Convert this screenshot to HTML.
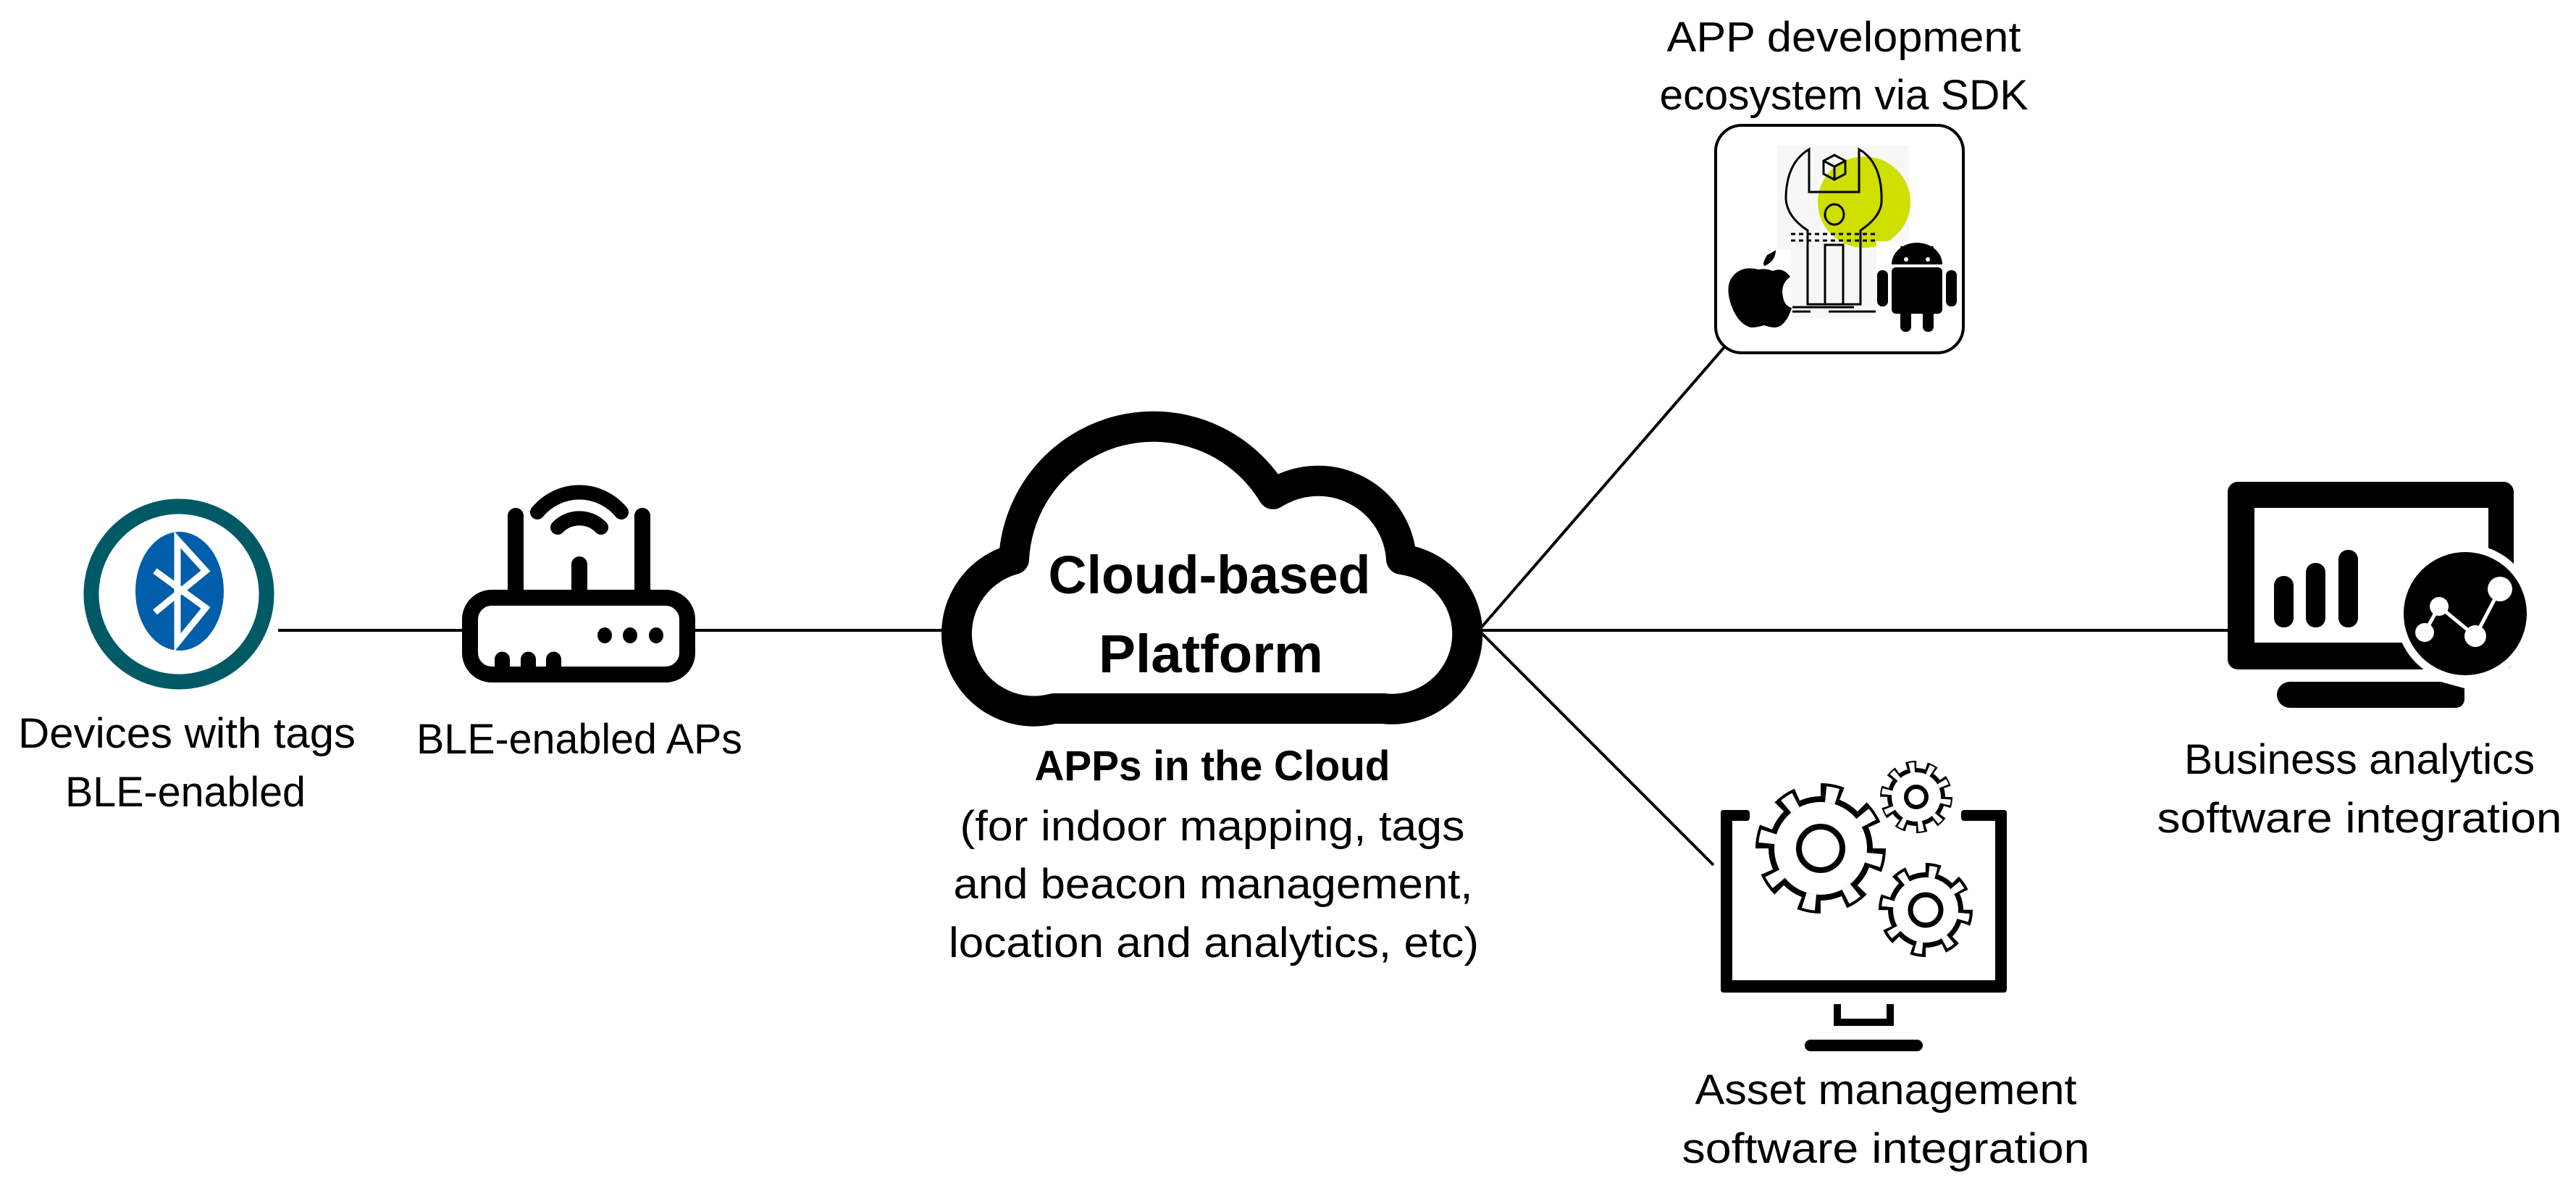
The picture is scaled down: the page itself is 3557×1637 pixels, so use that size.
<!DOCTYPE html>
<html><head><meta charset="utf-8"><style>
html,body{margin:0;padding:0;background:#fff}
svg{display:block}
text{font-family:"Liberation Sans",sans-serif;fill:#000}
</style></head><body>
<svg width="3557" height="1637" viewBox="0 0 3557 1637" xmlns="http://www.w3.org/2000/svg">
<rect width="3557" height="1637" fill="#fff"/>
<!-- connectors -->
<g stroke="#000" stroke-width="4" fill="none">
<line x1="384" y1="870" x2="640" y2="870"/>
<line x1="958" y1="870" x2="1330" y2="870"/>
<line x1="2042" y1="870" x2="3078" y2="870"/>
<line x1="2042" y1="870" x2="2382" y2="478"/>
<line x1="2042" y1="870" x2="2366" y2="1194"/>
</g>

<!-- Bluetooth -->
<circle cx="247" cy="820" r="121" fill="#fff" stroke="#005a66" stroke-width="21"/>
<ellipse cx="248" cy="816" rx="61" ry="82" fill="#005eaa"/>
<polyline points="214,788 284,839 245,887 245,745 284,788 214,845" fill="none" stroke="#fff" stroke-width="9" stroke-linejoin="miter"/>

<!-- Router -->
<g stroke="#000" fill="none">
<rect x="649" y="825" width="300" height="106" rx="30" stroke-width="22" fill="#fff"/>
<line x1="712" y1="712" x2="712" y2="820" stroke-width="22" stroke-linecap="round"/>
<line x1="887" y1="712" x2="887" y2="820" stroke-width="22" stroke-linecap="round"/>
<line x1="800" y1="779" x2="800" y2="820" stroke-width="22" stroke-linecap="round"/>
<path d="M770,728 A42,42 0 0 1 830,728" stroke-width="20" stroke-linecap="round"/>
<path d="M742,707 A75,75 0 0 1 858,707" stroke-width="20" stroke-linecap="round"/>
</g>
<g fill="#000">
<ellipse cx="835" cy="877" rx="10" ry="11"/>
<ellipse cx="870" cy="877" rx="10" ry="11"/>
<ellipse cx="906" cy="877" rx="10" ry="11"/>
<path d="M683,925 V910 a10,10 0 0 1 21,0 V925 Z"/>
<path d="M719,925 V910 a10,10 0 0 1 21,0 V925 Z"/>
<path d="M754,925 V910 a10,10 0 0 1 21,0 V925 Z"/>
</g>

<!-- Cloud -->
<path d="M1455,978 L1910,978 A100,100 0 0 0 1935,772 A115,115 0 0 0 1758,682 A193,193 0 0 0 1400,772 A103,103 0 0 0 1455,978 Z" fill="#fff" stroke="#000" stroke-width="42" stroke-linejoin="round"/>
<text x="1670" y="819" font-size="74" font-weight="bold" text-anchor="middle" textLength="445" lengthAdjust="spacingAndGlyphs">Cloud-based</text>
<text x="1672" y="928" font-size="74" font-weight="bold" text-anchor="middle" textLength="310" lengthAdjust="spacingAndGlyphs">Platform</text>

<text x="1674" y="1077" font-size="58" font-weight="bold" text-anchor="middle" textLength="491" lengthAdjust="spacingAndGlyphs">APPs in the Cloud</text>
<text x="1674" y="1160" font-size="58" text-anchor="middle" textLength="697" lengthAdjust="spacingAndGlyphs">(for indoor mapping, tags</text>
<text x="1675" y="1240" font-size="58" text-anchor="middle" textLength="717" lengthAdjust="spacingAndGlyphs">and beacon management,</text>
<text x="1676" y="1321" font-size="58" text-anchor="middle" textLength="732" lengthAdjust="spacingAndGlyphs">location and analytics, etc)</text>

<text x="258" y="1032" font-size="58" text-anchor="middle" textLength="466" lengthAdjust="spacingAndGlyphs">Devices with tags</text>
<text x="256" y="1113" font-size="58" text-anchor="middle" textLength="332" lengthAdjust="spacingAndGlyphs">BLE-enabled</text>
<text x="800" y="1040" font-size="58" text-anchor="middle" textLength="450" lengthAdjust="spacingAndGlyphs">BLE-enabled APs</text>

<!-- APP box -->
<text x="2546" y="71" font-size="58" text-anchor="middle" textLength="489" lengthAdjust="spacingAndGlyphs">APP development</text>
<text x="2546" y="151" font-size="58" text-anchor="middle" textLength="509" lengthAdjust="spacingAndGlyphs">ecosystem via SDK</text>
<rect x="2369" y="173" width="342" height="314" rx="36" fill="#fff" stroke="#000" stroke-width="4"/>
<rect x="2454" y="201" width="182" height="238" fill="#f7f7f7"/>
<ellipse cx="2574" cy="279" rx="64" ry="63" fill="#cfdf00"/>
<g fill="none" stroke="#000" stroke-width="3">
<path d="M2498,206 L2498,265 L2567,265 L2567,206 Q2600,225 2598,280 Q2596,300 2569,318 L2569,420 L2496,420 L2496,318 Q2468,300 2466,275 Q2466,225 2498,206 Z"/>
<rect x="2520" y="338" width="25" height="82"/>
<ellipse cx="2533" cy="296" rx="13" ry="14"/>
<path d="M2518,222 L2533,214 L2548,222 L2548,240 L2533,248 L2518,240 Z M2518,222 L2533,230 L2548,222 M2533,230 L2533,248"/>
<line x1="2473" y1="323" x2="2589" y2="323" stroke-dasharray="6,5"/>
<line x1="2473" y1="332" x2="2589" y2="332" stroke-dasharray="6,5"/>
<line x1="2475" y1="424" x2="2560" y2="424"/>
<line x1="2475" y1="430" x2="2500" y2="430"/>
<line x1="2525" y1="430" x2="2590" y2="430"/>
</g>
<rect x="2384" y="345" width="89" height="108" fill="#fff"/>
<path d="M2440,352 Q2450,347 2452,345 Q2452,360 2437,367 Q2432,366 2440,352 Z" fill="#000"/>
<path d="M2428,372 Q2438,370 2448,374 Q2462,368 2472,382 Q2458,392 2462,410 Q2464,422 2474,425 Q2466,450 2452,452 Q2444,452 2436,449 Q2426,452 2418,452 Q2400,448 2390,420 Q2382,395 2392,382 Q2405,366 2428,372 Z" fill="#000"/>
<rect x="2591" y="333" width="110" height="126" fill="#fff"/>
<g fill="#000">
<path d="M2612,365 A35,30 0 0 1 2682,365 Z"/>
<line x1="2625" y1="340" x2="2632" y2="350" stroke="#000" stroke-width="3"/>
<line x1="2669" y1="340" x2="2662" y2="350" stroke="#000" stroke-width="3"/>
<rect x="2612" y="369" width="70" height="64" rx="6"/>
<rect x="2592" y="373" width="15" height="50" rx="7"/>
<rect x="2687" y="373" width="15" height="50" rx="7"/>
<rect x="2624" y="420" width="15" height="38" rx="7"/>
<rect x="2655" y="420" width="15" height="38" rx="7"/>
</g>
<circle cx="2632" cy="358" r="3" fill="#fff"/>
<circle cx="2662" cy="358" r="3" fill="#fff"/>

<!-- Asset management monitor -->
<g fill="#000">
<rect x="2376" y="1118" width="16" height="252" rx="4"/>
<rect x="2376" y="1118" width="40" height="15" rx="4"/>
<rect x="2708" y="1118" width="63" height="15" rx="4"/>
<rect x="2755" y="1118" width="16" height="252" rx="4"/>
<rect x="2376" y="1353" width="395" height="17" rx="4"/>
<rect x="2532" y="1386" width="10" height="30"/>
<rect x="2605" y="1386" width="10" height="30"/>
<rect x="2532" y="1406" width="83" height="10"/>
<rect x="2492" y="1435" width="163" height="16" rx="8"/>
</g>
<!-- gears: black then white -->
<g>
<circle cx="2514" cy="1171" r="72" fill="#000"/>
<circle cx="2514" cy="1171" r="81" fill="none" stroke="#000" stroke-width="18" stroke-dasharray="30 33.6"/>
<circle cx="2514" cy="1171" r="64" fill="#fff"/>
<circle cx="2514" cy="1171" r="75" fill="none" stroke="#fff" stroke-width="22" stroke-dasharray="16 42.9" stroke-dashoffset="-7"/>
<circle cx="2514" cy="1171" r="30" fill="none" stroke="#000" stroke-width="8"/>

<circle cx="2646" cy="1100" r="40" fill="#000"/>
<circle cx="2646" cy="1100" r="45" fill="none" stroke="#000" stroke-width="10" stroke-dasharray="14 14.27"/>
<circle cx="2646" cy="1100" r="34" fill="#fff"/>
<circle cx="2646" cy="1100" r="41" fill="none" stroke="#fff" stroke-width="14" stroke-dasharray="7 18.76" stroke-dashoffset="-3.2"/>
<circle cx="2646" cy="1100" r="14" fill="none" stroke="#000" stroke-width="6"/>

<circle cx="2659" cy="1256" r="52" fill="#000"/>
<circle cx="2659" cy="1256" r="58.5" fill="none" stroke="#000" stroke-width="13" stroke-dasharray="20 25.9"/>
<circle cx="2659" cy="1256" r="45" fill="#fff"/>
<circle cx="2659" cy="1256" r="53" fill="none" stroke="#fff" stroke-width="16" stroke-dasharray="10 31.6" stroke-dashoffset="-4.5"/>
<circle cx="2659" cy="1256" r="21" fill="none" stroke="#000" stroke-width="7"/>
</g>
<text x="2604" y="1524" font-size="58" text-anchor="middle" textLength="527" lengthAdjust="spacingAndGlyphs">Asset management</text>
<text x="2604" y="1605" font-size="58" text-anchor="middle" textLength="563" lengthAdjust="spacingAndGlyphs">software integration</text>

<!-- Business analytics monitor -->
<rect x="3076" y="665" width="395" height="259" rx="14" fill="#000"/>
<rect x="3113" y="701" width="323" height="186" fill="#fff"/>
<path d="M3144,959 a18,18 0 0 1 18,-18 L3370,941 L3403,950 L3403,965 a12,12 0 0 1 -12,12 L3162,977 a18,18 0 0 1 -18,-18 Z" fill="#000"/>
<rect x="3140" y="795" width="27" height="71" rx="13" fill="#000"/>
<rect x="3184" y="777" width="27" height="89" rx="13" fill="#000"/>
<rect x="3229" y="759" width="27" height="107" rx="13" fill="#000"/>
<circle cx="3404" cy="847" r="96" fill="#fff"/>
<circle cx="3404" cy="847" r="85" fill="#000"/>
<polyline points="3348,873 3368,837 3418,878 3452,813" fill="none" stroke="#fff" stroke-width="5"/>
<circle cx="3348" cy="873" r="13" fill="#fff"/>
<circle cx="3368" cy="837" r="13" fill="#fff"/>
<circle cx="3418" cy="878" r="15" fill="#fff"/>
<circle cx="3452" cy="813" r="17" fill="#fff"/>
<text x="3258" y="1068" font-size="58" text-anchor="middle" textLength="484" lengthAdjust="spacingAndGlyphs">Business analytics</text>
<text x="3258" y="1149" font-size="58" text-anchor="middle" textLength="559" lengthAdjust="spacingAndGlyphs">software integration</text>
</svg>
</body></html>
